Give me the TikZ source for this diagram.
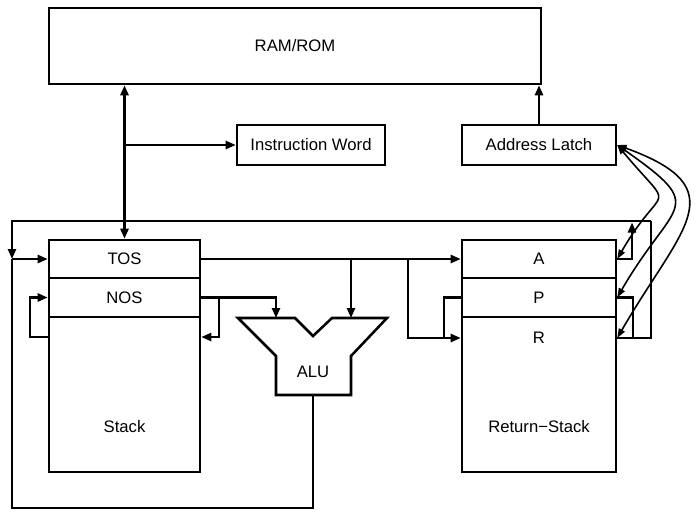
\documentclass[tikz,border=0pt]{standalone}
\usepackage{fontspec}
\setmainfont{Liberation Sans}
\usetikzlibrary{arrows.meta}

\begin{document}
\begin{tikzpicture}[
  x=0.75pt, y=-0.75pt,
  every node/.style={font=\fontsize{12.5}{14}\selectfont},
  box/.style={draw, line width=1.9pt, rectangle, inner sep=0pt},
  wire/.style={line width=1.8pt},
  arr/.style={wire, -{Triangle[length=7.5pt,width=6pt]}},
  darr/.style={wire, {Triangle[length=7.5pt,width=6pt]}-{Triangle[length=7.5pt,width=6pt]}},
  addrcurve/.style={line width=1.2pt, {Triangle[length=7pt,width=5pt]}-{Triangle[length=7pt,width=5pt]}},
]

% 1 unit = 1 pixel of the 696x511 frame
\def\u{0.75pt}
\useasboundingbox (0,0) rectangle (696,511);

% Memory and latches
\node[box, minimum width=492*\u, minimum height=76*\u] (ram) at (295,46) {RAM/ROM};
\node[box, minimum width=148*\u, minimum height=40*\u] (iw) at (311,145) {Instruction Word};
\node[box, minimum width=154*\u, minimum height=40*\u] (al) at (539,145) {Address Latch};

% Data stack
\node[box, minimum width=151*\u, minimum height=38*\u] (tos) at (124.5,259) {TOS};
\node[box, minimum width=151*\u, minimum height=39*\u] (nos) at (124.5,297.5) {NOS};
\node[box, minimum width=151*\u, minimum height=155*\u] (stk) at (124.5,394.5) {};
\node (stklbl) at (124.5,427) {Stack};

% Return stack
\node[box, minimum width=154*\u, minimum height=38*\u] (a) at (539,259) {A};
\node[box, minimum width=154*\u, minimum height=39*\u] (p) at (539,297.5) {P};
\node[box, minimum width=154*\u, minimum height=155*\u] (r) at (539,394.5) {};
\node (rlbl) at (539,338) {R};
\node (rslbl) at (539,427) {Return\char"2212 Stack};

% ALU
\draw[line width=1.9pt] (238,318) -- (295,318) -- (313,336) -- (332,318) -- (387,318)
  -- (351,356) -- (351,395) -- (276,395) -- (276,356) -- cycle;
\node (alu) at (313,372) {ALU};
\coordinate (alul) at (276,318);
\coordinate (alur) at (351,318);
\coordinate (aluo) at (313,395);

% Junctions
\coordinate (busj) at (tos.north |- iw.west);
\coordinate (tj) at (408,259);
\coordinate (pj) at (444,338);
\coordinate (nj) at (219,297.5);
\coordinate (nlp) at (30,297.5);
\coordinate (lj) at (12,259);
\coordinate (tl) at (12,221);
\coordinate (tr) at (651,221);

% Bus to memory
\draw[darr] (ram.south -| tos.north) -- (tos.north);
\draw[arr] (busj) -- (iw.west);
\draw[arr] (al.north) -- (al.north |- ram.south);

% TOS and NOS paths
\draw[arr] (tos.east) -- (a.west);
\draw[arr] (tos.east -| alur) -- (alur);
\draw[arr] (tj) |- (rlbl -| r.west);
\draw[wire] (p.west) -| (pj);
\draw[arr] (nos.east) -| (alul);
\draw[arr] (nj) |- (stk.east |- 0,337);
\draw[arr] (stk.west |- 0,337) -| (nlp) -- (nos.west);

% Feedback loop
\draw[wire] (aluo) |- (12,508) -- (lj);
\draw[arr] (tr) -- (tl) -- (lj);
\draw[arr] (lj) -- (tos.west);
\draw[wire] (tr) |- (rlbl -| r.east);
\draw[arr] (a.east) -| (632,222.5);
\draw[wire] (p.east) -| (633,337);

% Address paths
\draw[addrcurve] (al.east) to[out=-50, in=60, looseness=2.1] (a.east);
\draw[addrcurve] (al.east) to[out=-35, in=60, looseness=1.9] (p.east);
\draw[addrcurve] (al.east) to[out=-20, in=60, looseness=1.7] (rlbl -| r.east);

\end{tikzpicture}
\end{document}
